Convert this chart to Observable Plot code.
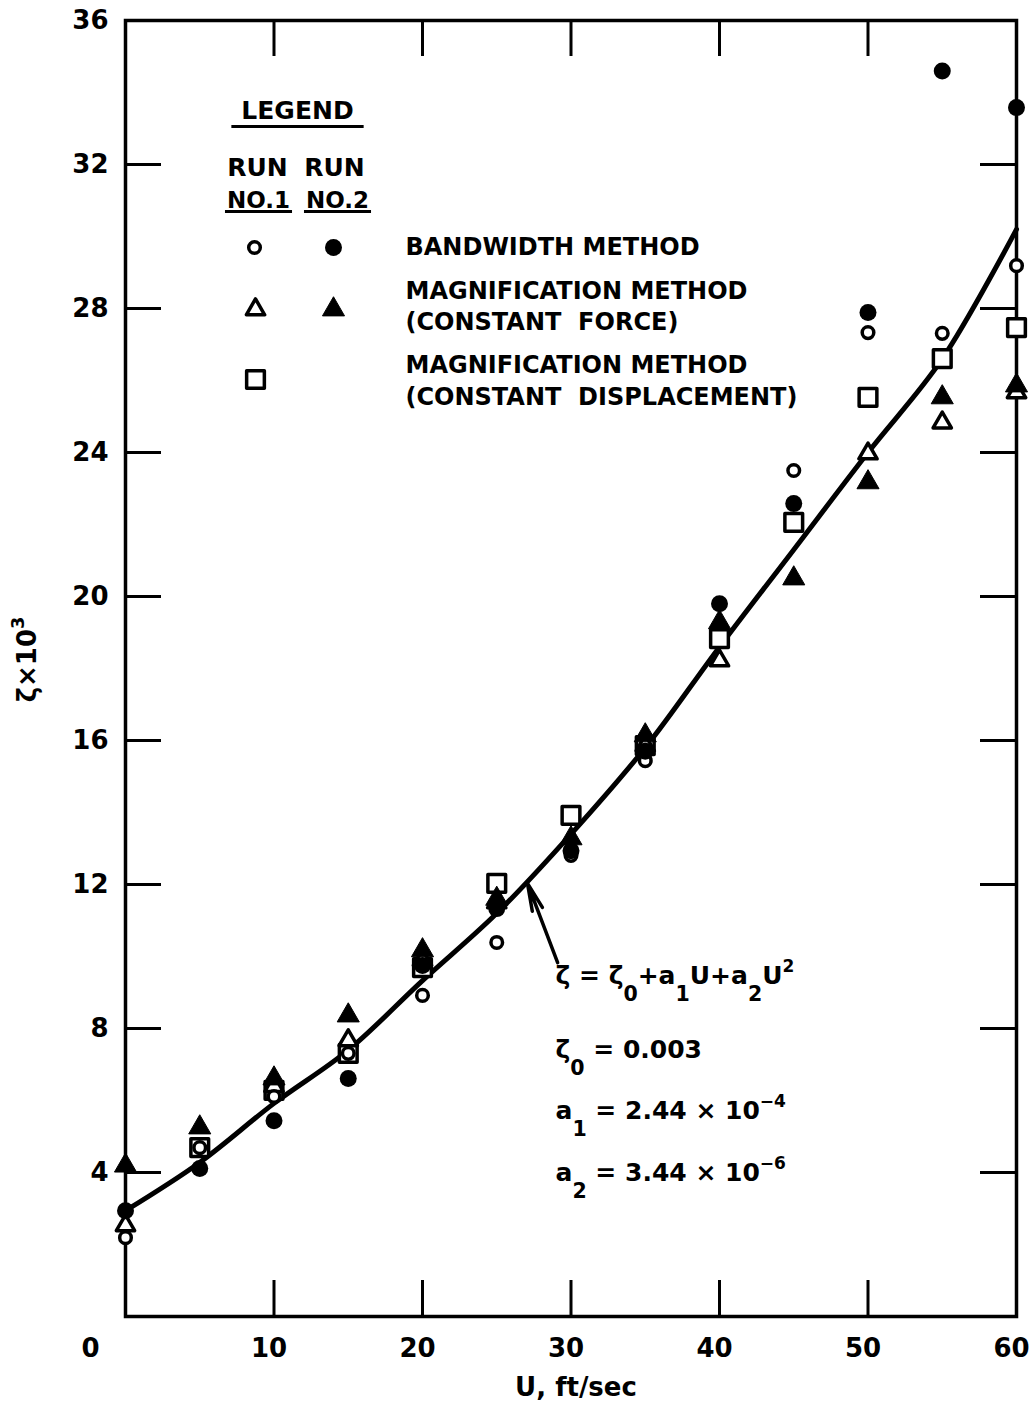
<!DOCTYPE html>
<html><head><meta charset="utf-8">
<script src="https://cdn.jsdelivr.net/npm/d3@7"></script>
<script src="https://cdn.jsdelivr.net/npm/@observablehq/plot@0.6"></script>
<style>
html,body{margin:0;padding:0;background:#fff;}
svg text{white-space:pre;}
</style>
</head><body><div id="chart"></div>
<script>
// ---- data ----
const U = [0, 5, 10, 15, 20, 25, 30, 35, 40, 45, 50, 55, 60];
const bandwidthRun1    = [2.19, 4.69, 6.11, 7.31, 8.92, 10.39, 12.81, 15.44, null, 23.5, 27.33, 27.31, 29.19];
const bandwidthRun2    = [2.94, 4.11, 5.44, 6.61, 9.75, 11.33, 12.94, 15.7, 19.8, 22.58, 27.89, 34.6, 33.58];
const forceRun1        = [2.53, null, 6.4, 7.67, 9.9, 11.5, null, 15.86, 18.22, null, 23.97, 24.83, 25.67];
const forceRun2        = [4.19, 5.25, 6.61, 8.36, 10.17, 11.6, 13.28, 16.14, 19.28, 20.5, 23.17, 25.53, 25.86];
const displacementRun1 = [null, 4.69, 6.28, 7.31, 9.69, 12.03, 13.92, 15.86, 18.83, 22.06, 25.53, 26.61, 27.47];
const fitCurve         = [2.94, 4.28, 5.92, 7.4, 9.33, 11.2, 13.4, 15.8, 18.6, 21.3, 24.0, 26.6, 30.2];
const xTicks = [10, 20, 30, 40, 50];
const xTickLabels = [10, 20, 30, 40, 50, 60];
const yTicks = [4, 8, 12, 16, 20, 24, 28, 32];
const yTickLabels = [4, 8, 12, 16, 20, 24, 28, 32, 36];
const xLabel = "U, ft/sec";
const yLabel = "ζ×10³";
const legendTitle = "LEGEND";
const runHeads = ["RUN", "RUN"];
const runNums = ["NO.1", "NO.2"];
const legendLabels = ["BANDWIDTH METHOD", "MAGNIFICATION METHOD", "(CONSTANT  FORCE)", "MAGNIFICATION METHOD", "(CONSTANT  DISPLACEMENT)"];
const equationLines = ["ζ = ζ₀+a₁U+a₂U²", "ζ₀ = 0.003", "a₁ = 2.44 × 10⁻⁴", "a₂ = 3.44 × 10⁻⁶"];
const arrowFrom = {u: 29.1, z: 9.83};
const arrowTo = {u: 27.07, z: 12.03};

// ---- layout ----
const W = 1032, H = 1403;
const mL = 125, mR = 16, mT = 20, mB = 87;
const TICK = 36;
const plotW = W - mL - mR, plotH = H - mT - mB;
const at = (px, py) => ({frameAnchor: "top-left", dx: px - mL, dy: py - mT});
const rows = (vals) => U.map((u, i) => ({u, z: vals[i]})).filter(d => d.z != null);

const openStyle = {fill: "white", stroke: "black", strokeWidth: 3.5, strokeLinejoin: "round"};
const sq = {symbol: "square", r: 10, ...openStyle};
const otri = {symbol: "triangle", r: 6.8, ...openStyle};
const ocirc = {symbol: "circle", r: 5.8, ...openStyle};
const ftri = {symbol: "triangle", r: 8.2, fill: "black", stroke: "black", strokeWidth: 1, strokeLinejoin: "round"};
const fcirc = {symbol: "circle", r: 8.5, fill: "black"};
const one = [0];
const eqFont = {textAnchor: "start", lineAnchor: "bottom", fontSize: 25, letterSpacing: "0.5px"};

const chart = Plot.plot({
  width: W, height: H,
  marginLeft: mL, marginRight: mR, marginTop: mT, marginBottom: mB,
  x: {domain: [0, 60], axis: null},
  y: {domain: [0, 36], axis: null},
  style: {fontFamily: "DejaVu Sans", fontWeight: "bold", background: "white", color: "black", overflow: "visible"},
  marks: [
    // inward ticks
    Plot.ruleX(xTicks, {x: d => d, insetTop: plotH - TICK, strokeWidth: 3}),
    Plot.ruleX(xTicks, {x: d => d, insetBottom: plotH - TICK, strokeWidth: 3}),
    Plot.ruleY(yTicks, {y: d => d, insetRight: plotW - TICK, strokeWidth: 3}),
    Plot.ruleY(yTicks, {y: d => d, insetLeft: plotW - TICK, strokeWidth: 3}),
    Plot.frame({strokeWidth: 3.5}),
    // tick labels
    Plot.text(xTickLabels, {x: d => d, frameAnchor: "bottom", dy: 22, dx: -5, lineAnchor: "top", fontSize: 26, text: d => String(d)}),
    Plot.text(one, {x: 0, frameAnchor: "bottom", dy: 22, dx: -35, lineAnchor: "top", fontSize: 26, text: d => "0"}),
    Plot.text(yTickLabels, {y: d => d, frameAnchor: "left", dx: -17, textAnchor: "end", lineAnchor: "middle", fontSize: 26, text: d => String(d)}),
    // axis titles
    Plot.text([xLabel], {frameAnchor: "bottom", dx: 5, dy: 79, lineAnchor: "bottom", fontSize: 26}),
    Plot.text([yLabel], {frameAnchor: "left", dx: -90, dy: -9, rotate: -90, textAnchor: "middle", lineAnchor: "bottom", fontSize: 26}),
    // fitted curve and annotation arrow
    Plot.line(rows(fitCurve), {x: "u", y: "z", curve: "catmull-rom", strokeWidth: 5}),
    Plot.arrow([{}], {x1: () => arrowFrom.u, y1: () => arrowFrom.z, x2: () => arrowTo.u, y2: () => arrowTo.z, strokeWidth: 3.5, headLength: 20, headAngle: 22}),
    // data points
    Plot.dot(rows(displacementRun1), {x: "u", y: "z", ...sq}),
    Plot.dot(rows(forceRun1), {x: "u", y: "z", ...otri}),
    Plot.dot(rows(bandwidthRun1), {x: "u", y: "z", ...ocirc}),
    Plot.dot(rows(forceRun2), {x: "u", y: "z", ...ftri}),
    Plot.dot(rows(bandwidthRun2), {x: "u", y: "z", ...fcirc}),
    // legend
    Plot.text([legendTitle], {...at(297, 118), textAnchor: "middle", lineAnchor: "bottom", fontSize: 25}),
    Plot.text([runHeads[0]], {...at(257, 175), textAnchor: "middle", lineAnchor: "bottom", fontSize: 25}),
    Plot.text([runHeads[1]], {...at(334, 175), textAnchor: "middle", lineAnchor: "bottom", fontSize: 25}),
    Plot.text([runNums[0]], {...at(258, 207), textAnchor: "middle", lineAnchor: "bottom", fontSize: 23}),
    Plot.text([runNums[1]], {...at(337, 207), textAnchor: "middle", lineAnchor: "bottom", fontSize: 23}),
    Plot.dot(one, {...at(254, 247), ...ocirc}),
    Plot.dot(one, {...at(333, 247), ...fcirc}),
    Plot.dot(one, {...at(255, 309), ...otri}),
    Plot.dot(one, {...at(333, 309), ...ftri}),
    Plot.dot(one, {...at(255, 379), ...sq}),
    Plot.text([legendLabels[0]], {...at(405, 247), textAnchor: "start", lineAnchor: "middle", fontSize: 24}),
    Plot.text([legendLabels[1]], {...at(405, 291), textAnchor: "start", lineAnchor: "middle", fontSize: 24}),
    Plot.text([legendLabels[2]], {...at(405, 322), textAnchor: "start", lineAnchor: "middle", fontSize: 24}),
    Plot.text([legendLabels[3]], {...at(405, 365), textAnchor: "start", lineAnchor: "middle", fontSize: 24}),
    Plot.text([legendLabels[4]], {...at(405, 397), textAnchor: "start", lineAnchor: "middle", fontSize: 24}),
    // equation
    Plot.text([equationLines[0]], {...at(555, 983), ...eqFont}),
    Plot.text([equationLines[1]], {...at(555, 1057), ...eqFont}),
    Plot.text([equationLines[2]], {...at(555, 1118), ...eqFont}),
    Plot.text([equationLines[3]], {...at(555, 1180), ...eqFont})
  ]
});
document.getElementById("chart").appendChild(chart);

// ---- post-processing: sub/superscripts and underlines ----
const NS = "http://www.w3.org/2000/svg";
const subMap = {"₀": "0", "₁": "1", "₂": "2"};
const supMap = {"²": "2", "³": "3", "⁴": "4", "⁶": "6", "⁻": "−"};
chart.querySelectorAll("text").forEach(t => {
  const s = t.textContent;
  if (![...s].some(ch => subMap[ch] || supMap[ch])) return;
  const base = parseFloat(getComputedStyle(t).fontSize) || 25;
  const runs = [];
  for (const ch of s) {
    const kind = subMap[ch] ? "sub" : supMap[ch] ? "sup" : "n";
    const c = subMap[ch] || supMap[ch] || ch;
    if (runs.length && runs[runs.length - 1].kind === kind) runs[runs.length - 1].text += c;
    else runs.push({kind, text: c});
  }
  t.textContent = "";
  let cur = 0;
  for (const r of runs) {
    const target = r.kind === "sub" ? base * 0.7 : r.kind === "sup" ? -base * 0.45 : 0;
    const ts = document.createElementNS(NS, "tspan");
    ts.setAttribute("dy", String(target - cur));
    if (r.kind !== "n") ts.setAttribute("font-size", String(base * (r.kind === "sub" ? 0.82 : 0.68)));
    ts.textContent = r.text;
    t.appendChild(ts);
    cur = target;
  }
});
const underlined = new Set([legendTitle, ...runNums]);
chart.querySelectorAll("text").forEach(t => {
  if (!underlined.has(t.textContent)) return;
  const b = t.getBBox();
  const extra = t.textContent === legendTitle ? 10 : 2;
  const line = document.createElementNS(NS, "line");
  line.setAttribute("x1", b.x - extra);
  line.setAttribute("x2", b.x + b.width + extra);
  const yy = b.y + b.height + (t.textContent === legendTitle ? 2 : -1);
  line.setAttribute("y1", yy);
  line.setAttribute("y2", yy);
  line.setAttribute("stroke", "black");
  line.setAttribute("stroke-width", "3");
  const tr = t.getAttribute("transform");
  if (tr) line.setAttribute("transform", tr);
  t.parentNode.appendChild(line);
});
</script>
</body></html>
